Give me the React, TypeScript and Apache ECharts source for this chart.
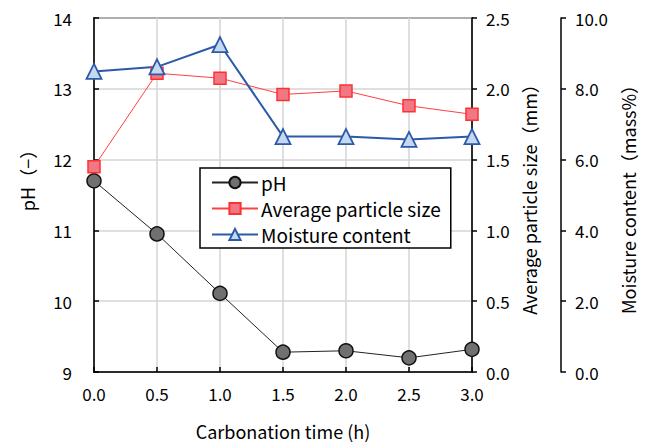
import React, { useEffect, useRef } from "react";
import * as echarts from "echarts";

const times = [0, 0.5, 1.0, 1.5, 2.0, 2.5, 3.0];
const phValues = [11.7, 10.95, 10.11, 9.28, 9.3, 9.2, 9.32];
const sizeValues = [1.45, 2.11, 2.075, 1.96, 1.985, 1.88, 1.82];
const moistureValues = [8.49, 8.62, 9.25, 6.65, 6.65, 6.57, 6.65];

const FONT = "'Noto Sans CJK JP', 'Noto Sans', sans-serif";

export default function App() {
  const ref = useRef<HTMLDivElement>(null);
  useEffect(() => {
    if (!ref.current) return;
    const chart = echarts.init(ref.current, null, { renderer: "svg" });
    const pair = (vals: number[]) => times.map((t, i) => [t, vals[i]]);
    const fmt1 = (v: number) => v.toFixed(1);
    chart.setOption({
      animation: false,
      backgroundColor: "#fff",
      textStyle: { fontFamily: FONT },
      grid: {
        left: 94,
        right: 176,
        top: 18,
        bottom: 68,
        show: true,
        borderColor: "#000",
        borderWidth: 1.5,
        backgroundColor: "transparent",
      },
      legend: {
        orient: "vertical",
        left: 200,
        top: 168,
        backgroundColor: "#fff",
        borderColor: "#000",
        borderWidth: 1.5,
        borderRadius: 0,
        padding: [5, 10, 4, 11],
        itemWidth: 46,
        itemHeight: 14,
        itemGap: 7,
        textStyle: { fontSize: 19, color: "#000", fontFamily: FONT, padding: [0, 0, 0, -2] },
        data: ["pH", "Average particle size", "Moisture content"],
      },
      xAxis: {
        type: "value",
        min: 0,
        max: 3,
        interval: 0.5,
        name: "Carbonation time (h)",
        nameLocation: "middle",
        nameGap: 50,
        nameTextStyle: { fontSize: 18, color: "#000", fontFamily: FONT },
        axisLine: { show: true, lineStyle: { color: "#000", width: 1.5 } },
        axisTick: { show: true, inside: true, length: 5, lineStyle: { color: "#000", width: 1.5 } },
        axisLabel: { formatter: fmt1, fontSize: 17, color: "#000", margin: 13, fontFamily: FONT },
        splitLine: { show: true, lineStyle: { color: "#d4d4d4", width: 1.5 } },
      },
      yAxis: [
        {
          type: "value",
          position: "left",
          min: 9,
          max: 14,
          interval: 1,
          axisLine: { show: true, lineStyle: { color: "#000", width: 1.5 } },
          axisTick: { show: true, inside: true, length: 5, lineStyle: { color: "#000", width: 1.5 } },
          axisLabel: { fontSize: 17, color: "#000", margin: 22, fontFamily: FONT },
          splitLine: { show: true, lineStyle: { color: "#d4d4d4", width: 1.5 } },
        },
        {
          type: "value",
          position: "right",
          min: 0,
          max: 2.5,
          interval: 0.5,
          name: "Average particle size（mm）",
          nameLocation: "middle",
          nameGap: 48,
          nameTextStyle: { fontSize: 18, color: "#000", fontFamily: FONT },
          axisLine: { show: true, lineStyle: { color: "#000", width: 1.5 } },
          axisTick: { show: true, length: 5, lineStyle: { color: "#000", width: 1.5 } },
          axisLabel: { formatter: fmt1, fontSize: 17, color: "#000", margin: 14, fontFamily: FONT },
          splitLine: { show: false },
        },
        {
          type: "value",
          position: "right",
          offset: 89,
          min: 0,
          max: 10,
          interval: 2,
          name: "Moisture content（mass%）",
          nameLocation: "middle",
          nameGap: 57,
          nameTextStyle: { fontSize: 18, color: "#000", fontFamily: FONT },
          axisLine: { show: true, lineStyle: { color: "#000", width: 1.5 } },
          axisTick: { show: true, length: 5, lineStyle: { color: "#000", width: 1.5 } },
          axisLabel: { formatter: fmt1, fontSize: 17, color: "#000", margin: 14, fontFamily: FONT },
          splitLine: { show: false },
        },
      ],
      graphic: [
        {
          type: "text",
          x: 27,
          y: 176,
          rotation: Math.PI / 2,
          style: {
            text: "pH（−）",
            fontSize: 18,
            fill: "#000",
            fontFamily: FONT,
            align: "center",
            verticalAlign: "middle",
          },
        },
      ],
      series: [
        {
          name: "pH",
          type: "line",
          yAxisIndex: 0,
          data: pair(phValues),
          symbol: "circle",
          symbolSize: 14,
          lineStyle: { color: "#222", width: 1 },
          itemStyle: { color: "#707070", borderColor: "#111", borderWidth: 1.5 },
        },
        {
          name: "Average particle size",
          type: "line",
          yAxisIndex: 1,
          data: pair(sizeValues),
          symbol: "rect",
          symbolSize: 12,
          lineStyle: { color: "#ff4040", width: 1 },
          itemStyle: { color: "#f07884", borderColor: "#ff3030", borderWidth: 1.5 },
        },
        {
          name: "Moisture content",
          type: "line",
          yAxisIndex: 2,
          data: pair(moistureValues),
          symbol: "triangle",
          symbolSize: 15,
          lineStyle: { color: "#2c5aa8", width: 2 },
          itemStyle: { color: "#c4d9ef", borderColor: "#2c5aa8", borderWidth: 1.8 },
        },
      ],
    });
    return () => chart.dispose();
  }, []);
  return <div ref={ref} style={{ width: 648, height: 445, position: "absolute", left: 0, top: 0 }} />;
}
